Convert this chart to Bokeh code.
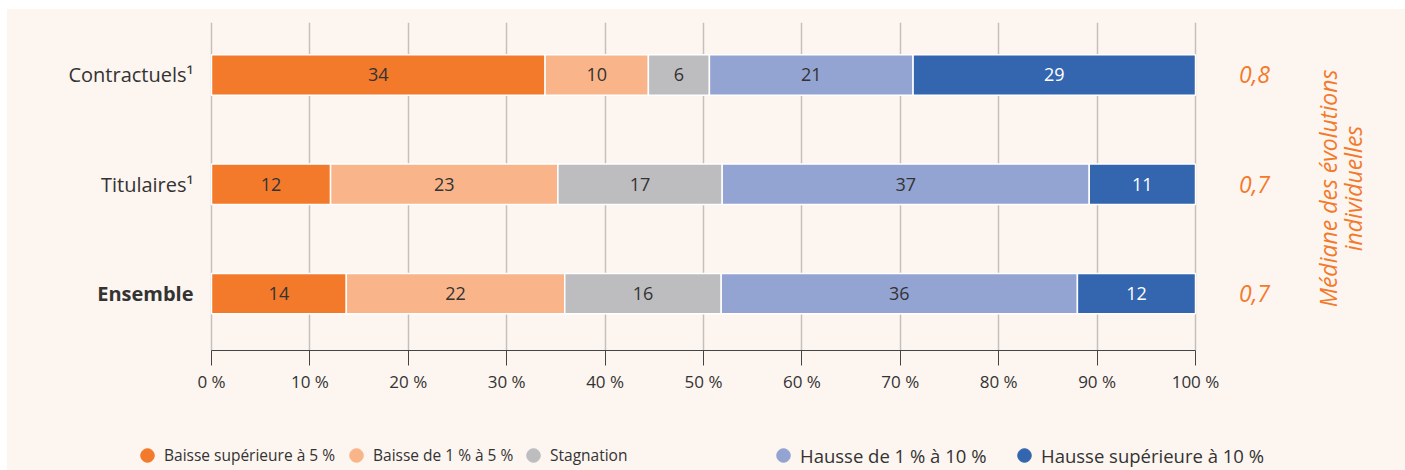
from bokeh.plotting import figure
from bokeh.layouts import column
from bokeh.models import (Range1d, FixedTicker, PrintfTickFormatter, Label,
                          Legend, LegendItem, ColumnDataSource)
from bokeh.embed import file_html
from bokeh.resources import INLINE
from bokeh.core.properties import value

# ---------------- data ----------------
categories = ["Contractuels¹", "Titulaires¹", "Ensemble"]
series_names = ["Baisse supérieure à 5 %", "Baisse de 1 % à 5 %", "Stagnation",
                "Hausse de 1 % à 10 %", "Hausse supérieure à 10 %"]
baisse_sup5 = [33.9, 12.1, 13.7]
baisse_1_5 = [10.5, 23.1, 22.2]
stagnation = [6.2, 16.7, 15.9]
hausse_1_10 = [20.7, 37.3, 36.2]
hausse_sup10 = [28.7, 10.8, 12.0]
labels_baisse_sup5 = ["34", "12", "14"]
labels_baisse_1_5 = ["10", "23", "22"]
labels_stagnation = ["6", "17", "16"]
labels_hausse_1_10 = ["21", "37", "36"]
labels_hausse_sup10 = ["29", "11", "12"]
medianes = ["0,8", "0,7", "0,7"]
x_ticks = [0, 10, 20, 30, 40, 50, 60, 70, 80, 90, 100]

# ---------------- style / layout ----------------
BG = "#FDF5F0"
ORANGE = "#F37A2B"
colors = ["#F37A2B", "#F9B589", "#BDBDBF", "#94A4D2", "#3466B0"]
text_colors = ["#333333", "#333333", "#333333", "#333333", "#FFFFFF"]
FONT = "Open Sans"
TXT = "#333333"

W = 1398
TOP = 13
FRAME_H = 328
BOTTOM = 60
LEG_H = 60
X0_PX, X100_PX = 204, 1188          # pixel position of 0 % and 100 %
px_per_unit = (X100_PX - X0_PX) / 100.0
x_start = -X0_PX / px_per_unit
x_end = x_start + W / px_per_unit

series = [baisse_sup5, baisse_1_5, stagnation, hausse_1_10, hausse_sup10]
series_labels = [labels_baisse_sup5, labels_baisse_1_5, labels_stagnation,
                 labels_hausse_1_10, labels_hausse_sup10]
n = len(categories)
ypos = [n - 1 - i for i in range(n)]

p = figure(width=W, height=TOP + FRAME_H + BOTTOM, output_backend="svg",
           toolbar_location=None,
           x_range=Range1d(x_start, x_end), y_range=Range1d(-0.52, n - 0.52),
           y_axis_location=None,
           min_border_left=0, min_border_right=0, min_border_top=TOP,
           min_border_bottom=BOTTOM)
p.background_fill_color = BG
p.border_fill_color = BG
p.outline_line_color = None

p.xaxis.ticker = FixedTicker(ticks=x_ticks)
p.xaxis.bounds = (0, 100)
p.xaxis.formatter = PrintfTickFormatter(format="%d %%")
p.xaxis.axis_line_color = "#444444"
p.xaxis.major_tick_line_color = "#444444"
p.xaxis.major_tick_out = 15
p.xaxis.major_tick_in = 0
p.xaxis.minor_tick_line_color = None
p.xaxis.major_label_standoff = 4
p.xaxis.major_label_text_font = FONT
p.xaxis.major_label_text_font_size = "17px"
p.xaxis.major_label_text_color = TXT
p.xgrid.grid_line_color = "#C4C0BD"
p.xgrid.grid_line_width = 1.5
p.ygrid.visible = False

left = [0.0] * n
for vals, labs, col, tcol in zip(series, series_labels, colors, text_colors):
    right = [l + v for l, v in zip(left, vals)]
    mid = [(l + r) / 2 for l, r in zip(left, right)]
    p.hbar(y=ypos, left=left, right=right, height=0.37, fill_color=col,
           line_color="white", line_width=1.5)
    p.text(x=mid, y=ypos, text=labs, text_align="center", text_baseline="middle",
           text_font=value(FONT), text_font_size="18px", text_color=tcol)
    left = right

# category labels (left)
for cat, y in zip(categories, ypos):
    p.add_layout(Label(x=186, x_units="screen", y=y, text=cat, text_align="right",
                       text_baseline="middle", text_font=FONT, text_font_size="20px",
                       text_color=TXT,
                       text_font_style="bold" if cat == "Ensemble" else "normal"))

# medians (right)
for med, y in zip(medianes, ypos):
    p.add_layout(Label(x=1247, x_units="screen", y=y, text=med, text_align="center",
                       text_baseline="middle", text_font=FONT, text_font_size="23px",
                       text_font_style="italic", text_color=ORANGE))

for txt, xs in [("Médiane des évolutions", 1320), ("individuelles", 1345)]:
    p.add_layout(Label(x=xs, x_units="screen", y=162, y_units="screen", text=txt,
                       angle=1.5707963, text_align="center", text_baseline="middle",
                       text_font=FONT, text_font_size="23px",
                       text_font_style="italic", text_color=ORANGE))

# legend strip
q = figure(width=W, height=LEG_H, output_backend="svg", toolbar_location=None,
           x_axis_location=None, y_axis_location=None,
           x_range=Range1d(0, 1), y_range=Range1d(0, 1),
           min_border_left=0, min_border_right=0, min_border_top=0,
           min_border_bottom=0)
q.background_fill_color = BG
q.border_fill_color = BG
q.outline_line_color = None
q.xgrid.visible = False
q.ygrid.visible = False

legend_x = [123, 332, 509, 759, 1000]
legend_fs = ["15.5px", "15.5px", "15.5px", "18.5px", "18.5px"]
nan = float("nan")
for name, col, lx, fs in zip(series_names, colors, legend_x, legend_fs):
    src = ColumnDataSource(data=dict(x=[nan], y=[nan]))
    r = q.scatter(x="x", y="y", source=src, marker="circle", size=14,
                  fill_color=col, line_color=col)
    lg = Legend(items=[LegendItem(label=name, renderers=[r])], location=(lx, -2),
                orientation="horizontal", glyph_width=34, glyph_height=34,
                label_standoff=0, padding=0, margin=0, spacing=0,
                background_fill_alpha=0, border_line_color=None,
                label_text_font=FONT, label_text_font_size=fs,
                label_text_color=TXT)
    q.add_layout(lg, "center")

layout = column(p, q, spacing=0, margin=(9, 0, 0, 7),
                styles={"background-color": BG})
open("out.html", "w").write(file_html(layout, INLINE))
